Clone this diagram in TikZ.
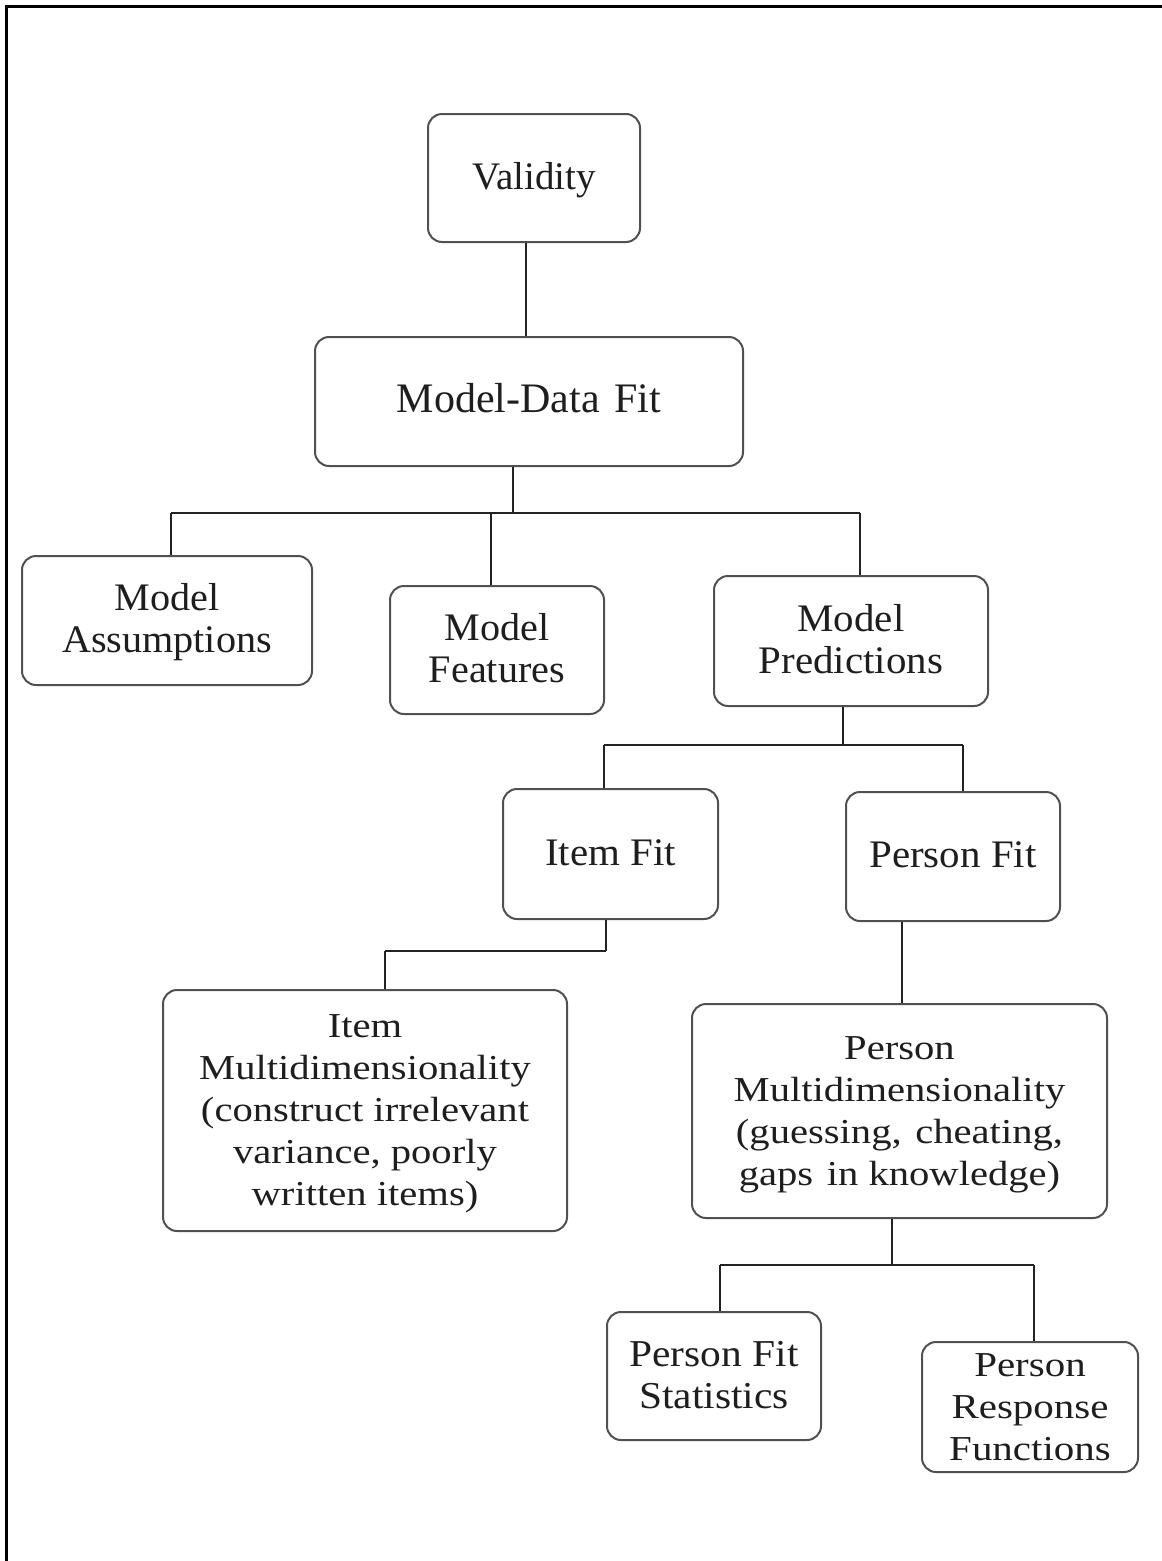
\documentclass[tikz,border=0pt]{standalone}
\usepackage{fontspec}
\setmainfont{Liberation Serif}
\usepackage{graphicx}
\definecolor{boxgray}{HTML}{505050}
\definecolor{txtgray}{HTML}{1E1E1E}
\definecolor{linegray}{HTML}{222222}
\newcommand{\bxt}[3]{\raisebox{-3pt}[\height][\depth]{\scalebox{#2}[1]{\fontsize{#1}{42}\selectfont\begin{tabular}{@{}c@{}}#3\end{tabular}}}}
\tikzset{
  box/.style={draw=boxgray, line width=2pt, rounded corners=14pt, fill=white,
    inner sep=0pt, align=center, text=txtgray},
  conn/.style={draw=linegray, line width=1.8pt},
  frame/.style={draw=black, line width=3pt}
}
\begin{document}
\begin{tikzpicture}[x=1pt,y=-1pt]
\useasboundingbox (0,0) rectangle (1162,1561);
\coordinate (fa) at (6,1561);
\coordinate (fb) at (6,6);
\coordinate (fc) at (1162,6);
\draw[frame] (fa) -- (fb) -- (fc);

\node[box, minimum width=212, minimum height=128] (val) at (534,178) {\bxt{39}{1.0}{Validity}};
\node[box, minimum width=428, minimum height=129] (mdf) at (529,401.5) {\bxt{42}{1.0}{Model-Data\hspace{4pt} Fit}};
\node[box, minimum width=290, minimum height=129] (ma) at (167,620.5) {\bxt{39}{1.03}{Model\\Assumptions}};
\node[box, minimum width=214, minimum height=128] (mf) at (497,650) {\bxt{39}{1.03}{Model\\Features}};
\node[box, minimum width=274, minimum height=130] (mp) at (851,641) {\bxt{39}{1.05}{Model\\Predictions}};
\node[box, minimum width=215, minimum height=130] (if) at (610.5,854) {\bxt{39}{1.05}{Item Fit}};
\node[box, minimum width=214, minimum height=129] (pf) at (953,856.5) {\bxt{39}{1.05}{Person Fit}};
\node[box, minimum width=404, minimum height=241] (im) at (365,1110.5) {\bxt{35}{1.16}{Item\\Multidimensionality\\(construct irrelevant\\variance, poorly\\written items)}};
\node[box, minimum width=415, minimum height=214] (pm) at (899.5,1111) {\bxt{35}{1.16}{Person\\Multidimensionality\\(guessing,\hspace{3pt} cheating,\\gaps\hspace{3pt} in knowledge)}};
\node[box, minimum width=214, minimum height=128] (pfs) at (714,1376) {\bxt{38}{1.09}{Person Fit\\Statistics}};
\node[box, minimum width=216, minimum height=130] (prf) at (1030,1407) {\bxt{35}{1.17}{Person\\Response\\Functions}};

% Validity -> Model-Data Fit
\draw[conn] ([xshift=-8pt]val.south) -- ([xshift=-3pt]mdf.north);

% Model-Data Fit -> three children
\coordinate (b1l) at (171,513);
\coordinate (b1m) at (491,513);
\coordinate (b1r) at (860,513);
\draw[conn] ([xshift=-16pt]mdf.south) -- ([xshift=-16pt]mdf.south |- b1l);
\draw[conn] (b1l) -- (b1r);
\draw[conn] (b1l) -- (b1l |- ma.north);
\draw[conn] (b1m) -- (b1m |- mf.north);
\draw[conn] (b1r) -- (b1r |- mp.north);

% Model Predictions -> Item Fit, Person Fit
\coordinate (b2l) at (604,745);
\coordinate (b2r) at (963,745);
\draw[conn] ([xshift=-8pt]mp.south) -- ([xshift=-8pt]mp.south |- b2l);
\draw[conn] (b2l) -- (b2r);
\draw[conn] (b2l) -- (b2l |- if.north);
\draw[conn] (b2r) -- (b2r |- pf.north);

% Item Fit -> Item Multidimensionality
\coordinate (b3l) at (385,951);
\coordinate (b3r) at (606,951);
\draw[conn] (b3r |- if.south) -- (b3r);
\draw[conn] (b3r) -- (b3l);
\draw[conn] (b3l) -- (b3l |- im.north);

% Person Fit -> Person Multidimensionality
\coordinate (b4) at (902,950);
\draw[conn] (b4 |- pf.south) -- (b4 |- pm.north);

% Person Multidimensionality -> two children
\coordinate (b5l) at (720,1265);
\coordinate (b5m) at (892,1265);
\coordinate (b5r) at (1034,1265);
\draw[conn] (b5m |- pm.south) -- (b5m);
\draw[conn] (b5l) -- (b5r);
\draw[conn] (b5l) -- (b5l |- pfs.north);
\draw[conn] (b5r) -- (b5r |- prf.north);
\end{tikzpicture}
\end{document}
